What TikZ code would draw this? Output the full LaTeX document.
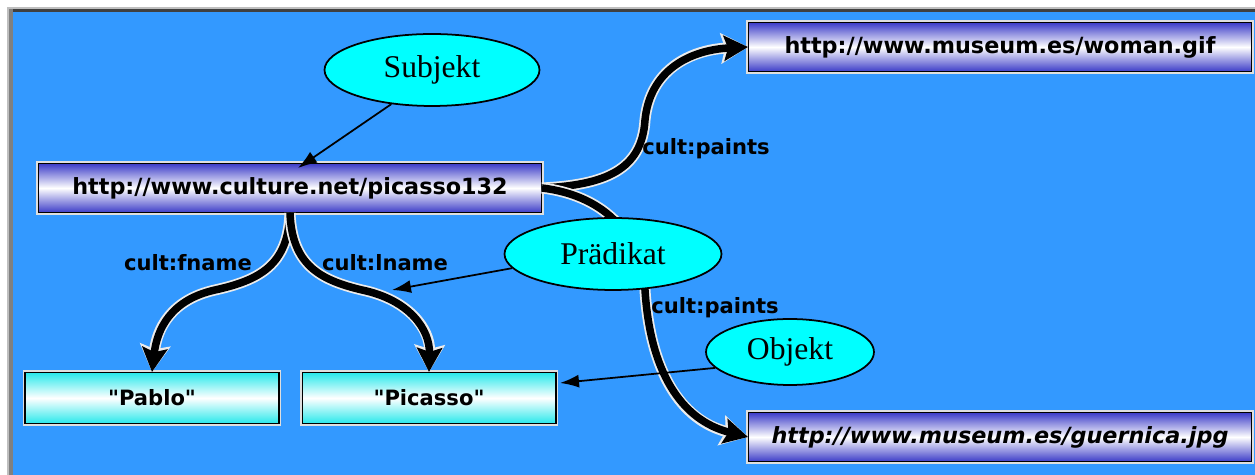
\documentclass[tikz,border=0pt]{standalone}
\usepackage{fontspec}
\setmainfont{Liberation Serif}
\newfontfamily\urlfont{DejaVu Sans}
\usepackage{tikz}
\usetikzlibrary{shapes.geometric,arrows.meta}
\definecolor{rdfbg}{RGB}{51,153,255}
\definecolor{rdfres}{RGB}{60,60,200}
\definecolor{rdflit}{RGB}{40,232,235}
\definecolor{rdfnote}{RGB}{0,255,255}
\tikzstyle{rdfres}=[rectangle, draw=black, line width=0.6pt, top color=rdfres, bottom color=rdfres, middle color=white, preaction={draw=gray!25, line width=2.4pt}, minimum width=10.06cm, minimum height=0.98cm, font=\urlfont\bfseries\fontsize{12.7}{15}\selectfont]
\tikzstyle{rdflit}=[rectangle, draw=black, line width=0.6pt, top color=rdflit, bottom color=rdflit, middle color=white, preaction={draw=gray!25, line width=2.4pt}, minimum width=5.08cm, minimum height=1.02cm, font=\urlfont\bfseries\fontsize{12}{14}\selectfont]
\tikzstyle{rdfnote}=[ellipse, draw, fill=rdfnote, line width=1pt, inner sep=0pt, font=\fontsize{18}{20}\selectfont]
\tikzstyle{rdfprop}=[draw=black, line width=0.15cm, -{Stealth[length=0.48cm,width=0.5cm,inset=0.08cm]},
	preaction={draw=white!85!gray, line width=0.22cm, -{Stealth[length=0.54cm,width=0.6cm,inset=0.08cm]}}]
\tikzstyle{rdfpoint}=[draw=black, line width=1pt, -{Latex[length=0.38cm,width=0.26cm]}]
\tikzstyle{proplabel}=[font=\urlfont\bfseries\fontsize{12}{14}\selectfont, inner sep=0pt]
\newcommand{\rdfresource}[3]{
	\node[rdfres] (#1) at (#2) {#3};}
\newcommand{\rdfliteral}[3]{
	\node[rdflit] (#1) at (#2) {#3};}

\begin{document}
\begin{tikzpicture}[x=0.02cm, y=-0.02cm]
	% frame
	\useasboundingbox (0,0) rectangle (1255,475);
	\fill[gray!50] (7,7) rectangle (1255,475);
	\fill[black!75] (9,9) rectangle (1255,12);
	\fill[gray] (9,9) rectangle (13,475);
	\fill[rdfbg] (13,12) rectangle (1255,475);

	\rdfresource{picasso}{290,188}{http://www.culture.net/picasso132}
	\rdfresource{woman}{1000,47}{http://www.museum.es/woman.gif}
	\rdfresource{guernica}{1000,437}{\itshape http://www.museum.es/guernica.jpg}
	\rdfliteral{first}{152,398}{"Pablo"}
	\rdfliteral{last}{429,398}{"Picasso"}

	% properties
	\path[rdfprop] (picasso.south) .. controls (288,265) and (260,280) .. (215,290)
		.. controls (170,300) and (157,330) .. (first.north);
	\path[rdfprop] (picasso.south) .. controls (292,265) and (320,280) .. (362,290)
		.. controls (410,300) and (430,330) .. (last.north);
	\path[rdfprop] (picasso.east) .. controls (605,185) and (642,170) .. (645,120)
		.. controls (650,70) and (690,50) .. (woman.west);
	\path[rdfprop] (picasso.east) .. controls (600,195) and (640,230) .. (645,290)
		.. controls (650,370) and (680,420) .. (guernica.west);

	\node[proplabel] (fname) at (188,263) {cult:fname};
	\node[proplabel] (lname) at (385,263) {cult:lname};
	\node[proplabel] (paints1) at (706,149) {cult:paints};
	\node[proplabel] (paints2) at (715,308) {cult:paints};

	\node[rdfnote, minimum width=4.3cm, minimum height=1.44cm] (subj) at (432,70) {Subjekt};
	\node[rdfnote, minimum width=4.34cm, minimum height=1.44cm] (pred) at (613,254) {Prädikat};
	\node[rdfnote, minimum width=3.36cm, minimum height=1.32cm] (obj) at (790,352) {Objekt};

	\coordinate (subjtip) at (298,168);
	\coordinate (predtip) at (392,290);
	\coordinate (objtip) at (560,383);
	\draw[rdfpoint] (subj.220) -- (subjtip);
	\draw[rdfpoint] (pred.188) -- (predtip);
	\draw[rdfpoint] (obj.192) -- (objtip);
\end{tikzpicture}
\end{document}
